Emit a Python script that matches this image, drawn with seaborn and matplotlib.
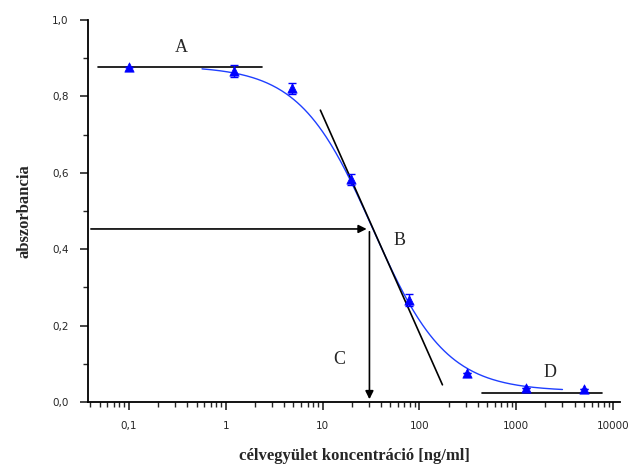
import numpy as np
import pandas as pd
import matplotlib
matplotlib.use('Agg')
import matplotlib.pyplot as plt
from matplotlib.ticker import FixedLocator, LogLocator, NullFormatter, MultipleLocator
import seaborn as sns

# mért pontok
konc = [0.1, 1.22, 4.88, 19.5, 78.1, 312.5, 1250, 5000]
absz = [0.878, 0.867, 0.821, 0.583, 0.267, 0.076, 0.037, 0.034]
hiba = [0.0, 0.015, 0.015, 0.015, 0.015, 0.0, 0.0, 0.0]

# illesztett 4PL görbe paraméterei
felso = 0.88
also = 0.028
ic50 = 33.0
meredek = 1.15
gorbe_tol, gorbe_ig = 0.57, 3000

# segédvonalak
a_vonal_x = [0.048, 2.35]
a_vonal_y = [0.878, 0.878]
d_vonal_x = [447, 7700]
d_vonal_y = [0.024, 0.024]
erinto_x = [9.5, 173]
erinto_y = [0.764, 0.045]
b_szint = 0.453
c_konc = 30.5

xtick_pos = [0.1, 1, 10, 100, 1000, 10000]
xtick_lab = ['0,1', '1', '10', '100', '1000', '10000']
ytick_pos = [0.0, 0.2, 0.4, 0.6, 0.8, 1.0]
ytick_lab = ['0,0', '0,2', '0,4', '0,6', '0,8', '1,0']

sns.set_style('ticks')
plt.rcParams['font.family'] = ['DejaVu Sans']

fig = plt.figure(figsize=(6.34, 4.71), dpi=100)
ax = fig.add_axes([0.139, 0.1465, 0.839, 0.811])

xs = np.logspace(np.log10(gorbe_tol), np.log10(gorbe_ig), 300)
ys = (felso - also) / (1 + (xs / ic50) ** meredek) + also
gorbe = pd.DataFrame({'x': xs, 'y': ys})
sns.lineplot(data=gorbe, x='x', y='y', ax=ax, color='#1f3fff', lw=1.0)

ax.plot(a_vonal_x, a_vonal_y, color='black', lw=1.2)
ax.plot(d_vonal_x, d_vonal_y, color='black', lw=1.2)
ax.plot(erinto_x, erinto_y, color='black', lw=1.2)

ax.errorbar(konc, absz, yerr=hiba, fmt='none', ecolor='#0000ff', elinewidth=1, capsize=3, capthick=1)
pontok = pd.DataFrame({'x': konc, 'y': absz})
sns.scatterplot(data=pontok, x='x', y='y', ax=ax, marker='^', color='#0000ff', s=45, edgecolor='#0000ff', zorder=5)

ax.annotate('', xy=(c_konc, b_szint), xytext=(0.038, b_szint),
            arrowprops=dict(arrowstyle='-|>', color='black', lw=1.2, mutation_scale=12))
ax.annotate('', xy=(c_konc, 0.0), xytext=(c_konc, b_szint),
            arrowprops=dict(arrowstyle='-|>', color='black', lw=1.2, mutation_scale=12))

betu = dict(fontsize=13, family='Liberation Serif', ha='center', va='center')
ax.text(0.35, 0.927, 'A', **betu)
ax.text(62, 0.424, 'B', **betu)
ax.text(15, 0.11, 'C', **betu)
ax.text(2240, 0.076, 'D', **betu)

ax.set_xscale('log')
ax.set_xlim(0.038, 11800)
ax.set_ylim(0, 1.0)
ax.xaxis.set_major_locator(FixedLocator(xtick_pos))
ax.set_xticklabels(xtick_lab)
ax.xaxis.set_minor_locator(LogLocator(base=10, subs=np.arange(2, 10)))
ax.xaxis.set_minor_formatter(NullFormatter())
ax.yaxis.set_major_locator(FixedLocator(ytick_pos))
ax.set_yticklabels(ytick_lab)
ax.yaxis.set_minor_locator(MultipleLocator(0.1))

ax.tick_params(which='major', length=6, width=1.2, labelsize=7.5, pad=8)
ax.tick_params(which='minor', length=3.5, width=1.0)
for s in ['top', 'right']:
    ax.spines[s].set_visible(False)
for s in ['left', 'bottom']:
    ax.spines[s].set_linewidth(1.3)
    ax.spines[s].set_color('black')

ax.set_xlabel('célvegyület koncentráció [ng/ml]', family='Liberation Serif', fontweight='bold', fontsize=12, labelpad=12)
ax.set_ylabel('abszorbancia', family='Liberation Serif', fontweight='bold', fontsize=12, labelpad=14)

fig.savefig('out.png', dpi=100)
